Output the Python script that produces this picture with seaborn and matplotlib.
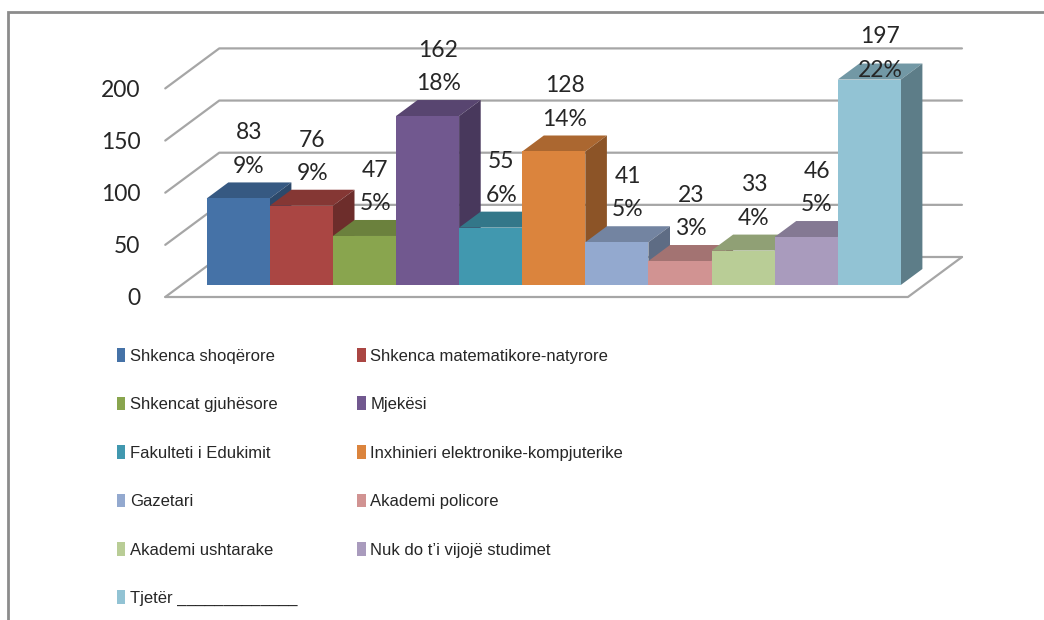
import numpy as np
import pandas as pd
import matplotlib
matplotlib.use("Agg")
import matplotlib.pyplot as plt
from matplotlib.patches import Polygon, Patch, Rectangle
from matplotlib.colors import to_rgb
import seaborn as sns

# dati
categories = ["Shkenca shoqërore", "Shkenca matematikore-natyrore", "Shkencat gjuhësore", "Mjekësi",
              "Fakulteti i Edukimit", "Inxhinieri elektronike-kompjuterike", "Gazetari", "Akademi policore",
              "Akademi ushtarake", "Nuk do t’i vijojë studimet", "Tjetër _____________"]
values = [83, 76, 47, 162, 55, 128, 41, 23, 33, 46, 197]
percents = [9, 9, 5, 18, 6, 14, 5, 3, 4, 5, 22]
colors = ["#4572A7", "#AA4643", "#89A54E", "#71588F", "#4198AF", "#DB843D",
          "#93A9CF", "#D19392", "#B9CD96", "#A99BBD", "#92C3D4"]
y_ticks = [0, 50, 100, 150, 200]

sns.set_theme(style="white")
plt.rcParams["font.family"] = ["Lato", "DejaVu Sans"]
legend_font = ["Liberation Sans Narrow", "Liberation Sans", "DejaVu Sans"]

fig = plt.figure(figsize=(10.44, 6.2), dpi=100)
ax = fig.add_axes([0, 0, 1, 1])

df = pd.DataFrame({"categoria": categories, "valore": values})
sns.barplot(data=df, x="categoria", y="valore", hue="categoria", palette=colors,
            width=1.0, saturation=1, legend=False, linewidth=0, ax=ax)

# scala pixel per unità (per imitare la prospettiva obliqua di Excel)
px_x = 63.1
px_y = 1.043
ax.set_xlim(-238.25 / px_x, (1044 - 238.25) / px_x)
ax.set_ylim((285 - 620) / px_y, 285 / px_y)
ax.set_axis_off()

dx, dy = 54 / px_x, 40 / px_y   # profondità del pavimento
d_front, d_back = -0.3, 0.7
bar_d = 0.4
xl, xr = -0.9, 10.87


def proj(x, y, d):
    return x + d * dx, y + d * dy


grid_col = "#A6A6A6"
for g in y_ticks:
    x0, y0 = proj(xl, g, d_front)
    x1, y1 = proj(xl, g, d_back)
    x2, y2 = proj(xr, g, d_back)
    ax.plot([x0, x1, x2], [y0, y1, y2], color=grid_col, lw=1.6, zorder=0.5)
    ax.text(x0 - 25 / px_x, y0 - 2 / px_y, str(g), ha="right", va="center", fontsize=16.5)

# pavimento
fl = [proj(xl, 0, d_front), proj(xr, 0, d_front), proj(xr, 0, d_back)]
ax.plot([p[0] for p in fl], [p[1] for p in fl], color=grid_col, lw=1.6, zorder=0.5)

# facce laterali e superiori delle barre
for i, (patch, v, c) in enumerate(zip(ax.patches, values, colors)):
    patch.set_zorder(3 + 2 * i)
    base = np.array(to_rgb(c))
    a, b = i - 0.5, i + 0.5
    ox, oy = bar_d * dx, bar_d * dy
    top = [(a, v), (b, v), (b + ox, v + oy), (a + ox, v + oy)]
    side = [(b, 0), (b + ox, oy), (b + ox, v + oy), (b, v)]
    ax.add_patch(Polygon(top, closed=True, facecolor=base * 0.78, edgecolor="none", zorder=2 + 2 * i))
    ax.add_patch(Polygon(side, closed=True, facecolor=base * 0.64, edgecolor="none", zorder=2 + 2 * i))

    # etichette valore e percentuale
    lx = i + bar_d * dx / 2
    ly = min(v + 31, 206)
    ax.text(lx, ly, f"{percents[i]}%", ha="center", va="center", fontsize=16.5, zorder=50)
    ax.text(lx, ly + 32, str(v), ha="center", va="center", fontsize=16.5, zorder=50)

# cornice esterna
fig.add_artist(Rectangle((8 / 1044, -0.1), 1.2, 0.1 + 1 - 12 / 620, fill=False,
                         edgecolor="#8C8C8C", lw=2, transform=fig.transFigure))

# legenda su due colonne (ordinata per righe)
order = list(range(0, 11, 2)) + list(range(1, 11, 2))
handles = [Patch(facecolor=colors[i], edgecolor="none") for i in order]
labels = [categories[i] for i in order]
fig.legend(handles, labels, ncol=2, loc="upper left", bbox_to_anchor=(117 / 1044, 1 - 348 / 620),
           frameon=False, prop={"family": legend_font, "size": 12},
           handlelength=0.5, handleheight=0.9, handletextpad=0.3,
           labelspacing=1.97, columnspacing=3.56, borderaxespad=0, borderpad=0)

fig.savefig("out.png", dpi=100)
